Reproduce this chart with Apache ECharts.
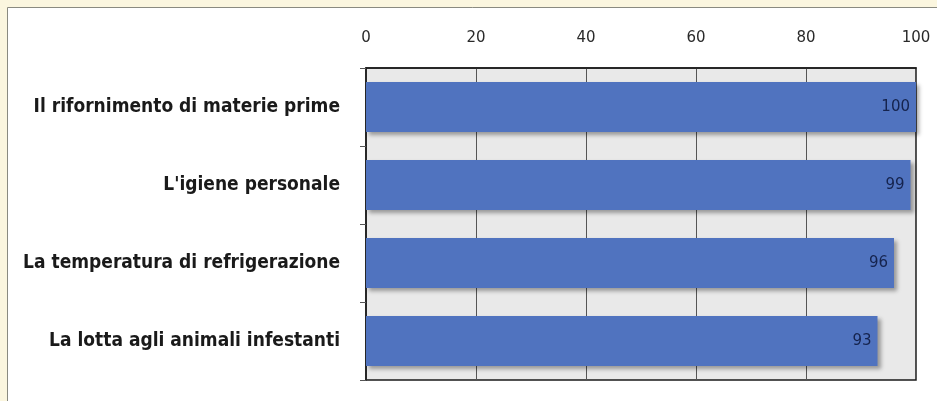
<!DOCTYPE html>
<html>
<head>
<meta charset="utf-8">
<script src="https://cdn.jsdelivr.net/npm/echarts@6/dist/echarts.min.js"></script>
<style>
  html, body { margin: 0; padding: 0; background: #fbf6df; }
  #chart { width: 937px; height: 401px; }
</style>
</head>
<body>
<div id="chart"></div>
<script>
// dati del grafico
const categories = [
  'Il rifornimento di materie prime',
  "L'igiene personale",
  'La temperatura di refrigerazione',
  'La lotta agli animali infestanti'
];
const values = [100, 99, 96, 93];
const tickMin = 0;
const tickMax = 100;
const tickStep = 20;

const chart = echarts.init(document.getElementById('chart'), null, { renderer: 'canvas' });

const option = {
  backgroundColor: '#fbf6df',
  animation: false,
  graphic: [{
    type: 'rect',
    z: -10,
    shape: { x: 7.5, y: 7.5, width: 940, height: 400 },
    style: { fill: '#ffffff', stroke: '#8a8a80', lineWidth: 1 }
  }],
  grid: {
    left: 366,
    right: 21,
    top: 68,
    bottom: 21,
    show: true,
    backgroundColor: '#e9e9e9',
    borderColor: '#1a1a1a',
    borderWidth: 1.5
  },
  xAxis: {
    type: 'value',
    position: 'top',
    min: tickMin,
    max: tickMax,
    interval: tickStep,
    axisLine: { show: true, lineStyle: { color: '#1a1a1a', width: 1.5 } },
    axisTick: { show: false },
    axisLabel: {
      color: '#2a2a2a',
      fontSize: 15,
      fontFamily: 'DejaVu Sans',
      margin: 22
    },
    splitLine: { show: true, lineStyle: { color: '#555', width: 1 } }
  },
  yAxis: {
    type: 'category',
    data: categories,
    inverse: true,
    axisLine: { show: true, lineStyle: { color: '#1a1a1a', width: 1.5 } },
    axisTick: { show: true, length: 6, lineStyle: { color: '#555' } },
    axisLabel: {
      color: '#1a1a1a',
      fontSize: 19,
      fontWeight: 'bold',
      fontFamily: '"DejaVu Sans Condensed", "DejaVu Sans", sans-serif',
      margin: 26
    }
  },
  series: [{
    type: 'bar',
    data: values,
    barCategoryGap: '36%',
    itemStyle: {
      color: '#5073bf',
      shadowColor: 'rgba(0,0,0,0.35)',
      shadowBlur: 4,
      shadowOffsetX: 3,
      shadowOffsetY: 3
    },
    label: {
      show: true,
      position: 'insideRight',
      color: '#15234d',
      fontSize: 15,
      fontFamily: 'DejaVu Sans',
      distance: 6
    }
  }]
};

chart.setOption(option);
</script>
</body>
</html>
